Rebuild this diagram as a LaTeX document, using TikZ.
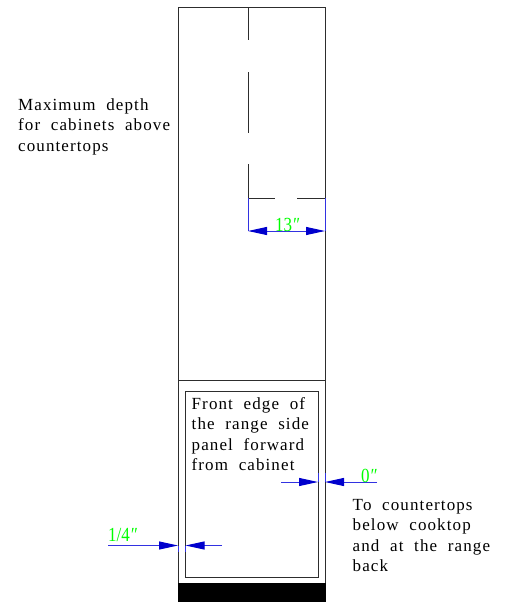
\documentclass[tikz,border=0pt]{standalone}
\usepackage{fontspec}
\usetikzlibrary{arrows.meta}
\setmainfont{Liberation Serif}
\newfontfamily\notefont[LetterSpace=6.5,WordSpace=2]{Liberation Serif}
\newfontfamily\dimfont[FakeStretch=0.85]{Liberation Serif}
\definecolor{dimblue}{RGB}{0,0,205}
\definecolor{dimline}{RGB}{50,50,225}
\definecolor{dimgreen}{RGB}{0,255,0}
\definecolor{edgegray}{RGB}{45,45,45}
\tikzset{
  x=1pt,y=-1pt,
  edge/.style={draw=edgegray,line width=0.9pt},
  ext/.style={draw=dimline,line width=1pt},
  dimstroke/.style={draw=dimline,line width=1pt},
  tip/.tip={Triangle[length=19pt,width=8pt,color=dimblue,fill=dimblue]},
  notetext/.style={inner sep=0pt,anchor=north west,align=left,text=black,font=\notefont\fontsize{17}{20.5}\selectfont},
  dimtext/.style={inner sep=0pt,anchor=base west,text=dimgreen,font=\dimfont\fontsize{20}{20}\selectfont},
}
\begin{document}
\begin{tikzpicture}
\useasboundingbox (0,0) rectangle (516,603);
% outlines
\coordinate (tl) at (178,7);
\coordinate (br) at (325,601);
\draw[edge] (tl) rectangle (br);
\coordinate (divL) at (178,380);
\coordinate (divR) at (325,380);
\draw[edge] (divL) -- (divR);
\coordinate (pTL) at (185.5,391.5);
\coordinate (pBR) at (318,577);
\draw[edge] (pTL) rectangle (pBR);
\coordinate (baseTL) at (178,583);
\coordinate (baseBR) at (326,602);
\fill[black] (baseTL) rectangle (baseBR);
% broken lines
\coordinate (v1a) at (248,7);   \coordinate (v1b) at (248,40);
\coordinate (v2a) at (248,72);  \coordinate (v2b) at (248,133);
\coordinate (v3a) at (248,164); \coordinate (v3b) at (248,198);
\coordinate (h1b) at (275,198); \coordinate (h2a) at (297,198); \coordinate (h2b) at (325,198);
\draw[edge] (v1a) -- (v1b);
\draw[edge] (v2a) -- (v2b);
\draw[edge] (v3a) -- (v3b) -- (h1b);
\draw[edge] (h2a) -- (h2b);
% 13 dimension
\coordinate (d13L) at (248,231); \coordinate (d13R) at (325,231);
\draw[ext] (v3b) -- (d13L);
\draw[ext] (h2b) -- (d13R);
\draw[dimstroke,tip-tip] (d13L) -- (d13R);
\node[dimtext] (t13) at (275,231) {13\textit{″}};
% 0 dimension
\coordinate (z1) at (318,482); \coordinate (z2) at (325,482);
\coordinate (z1t) at (318,473); \coordinate (z2t) at (325,473);
\coordinate (z1o) at (281,482); \coordinate (z2o) at (377,482);
\draw[ext] (z1t) -- (z1);
\draw[ext] (z2t) -- (z2);
\draw[dimstroke,-tip] (z1o) -- (z1);
\draw[dimstroke,-tip] (z2o) -- (z2);
\node[dimtext] (t0) at (361,482) {0\textit{″}};
% 1/4 dimension
\coordinate (q1) at (178,545.5); \coordinate (q2) at (185.5,545.5);
\coordinate (q1t) at (178,552); \coordinate (q2t) at (185.5,552);
\coordinate (q1o) at (108,545.5); \coordinate (q2o) at (222,545.5);
\draw[ext] (q1t) -- (q1);
\draw[ext] (q2t) -- (q2);
\draw[dimstroke,-tip] (q1o) -- (q1);
\draw[dimstroke,-tip] (q2o) -- (q2);
\node[dimtext] (t14) at (108,541) {1/4\textit{″}};
% notes
\node[notetext] (n1) at (18,98.5) {Maximum depth\\for cabinets above\\countertops};
\node[notetext] (n2) at (191.5,397) {Front edge of\\the range side\\panel forward\\from cabinet};
\node[notetext] (n3) at (352.5,499) {To countertops\\below cooktop\\and at the range\\back};
\end{tikzpicture}
\end{document}
